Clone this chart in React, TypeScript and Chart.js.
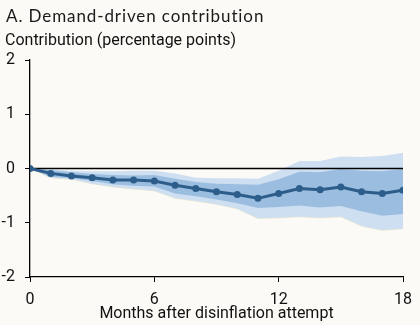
import React, { useEffect, useRef } from "react";
import { Chart, registerables } from "chart.js";

Chart.register(...registerables);

const months = [0, 1, 2, 3, 4, 5, 6, 7, 8, 9, 10, 11, 12, 13, 14, 15, 16, 17, 18];
const median = [0, -0.09, -0.14, -0.17, -0.21, -0.21, -0.23, -0.31, -0.37, -0.43, -0.48, -0.55, -0.46, -0.37, -0.39, -0.34, -0.43, -0.46, -0.4];
const innerUpper = [0, -0.03, -0.07, -0.1, -0.12, -0.13, -0.12, -0.19, -0.25, -0.28, -0.29, -0.3, -0.2, -0.06, -0.07, -0.01, -0.04, -0.05, -0.01];
const innerLower = [0, -0.15, -0.18, -0.23, -0.29, -0.32, -0.33, -0.46, -0.51, -0.57, -0.64, -0.73, -0.71, -0.68, -0.72, -0.69, -0.79, -0.87, -0.84];
const outerUpper = [0, -0.02, -0.04, -0.05, -0.05, -0.04, -0.04, -0.09, -0.17, -0.18, -0.18, -0.19, -0.04, 0.14, 0.14, 0.22, 0.21, 0.23, 0.29];
const outerLower = [0, -0.17, -0.2, -0.28, -0.34, -0.38, -0.41, -0.55, -0.6, -0.66, -0.74, -0.92, -0.91, -0.89, -0.91, -0.89, -1.06, -1.14, -1.11];
const xTicks = [0, 6, 12, 18];
const yTicks = [-2, -1, 0, 1, 2];

const titleText = "A. Demand-driven contribution";
const yTitleText = "Contribution (percentage points)";
const xTitleText = "Months after disinflation attempt";

const pts = (arr: number[]) => arr.map((v, i) => ({ x: months[i], y: v }));

const textPlugin = {
  id: "headerText",
  afterDraw(chart: any) {
    const ctx = chart.ctx;
    ctx.save();
    ctx.fillStyle = "#1a1a1a";
    ctx.textBaseline = "middle";
    ctx.textAlign = "left";
    ctx.font = "400 17px Lato";
    try {
      (ctx as any).letterSpacing = "0.9px";
    } catch (e) {}
    ctx.fillText(titleText, 6, 17);
    try {
      (ctx as any).letterSpacing = "0px";
    } catch (e) {}
    ctx.fillStyle = "#111111";
    ctx.font = "16px Roboto";
    ctx.fillText(yTitleText, 5, 41);
    ctx.restore();
  },
};

const bgPlugin = {
  id: "bg",
  beforeDraw(chart: any) {
    const ctx = chart.ctx;
    ctx.save();
    ctx.fillStyle = "#fbfaf6";
    ctx.fillRect(0, 0, chart.width, chart.height);
    ctx.restore();
  },
};

export default function App() {
  const ref = useRef<HTMLCanvasElement | null>(null);
  useEffect(() => {
    document.body.style.margin = "0";
    const canvas = ref.current;
    if (!canvas) return;
    const chart = new Chart(canvas, {
      type: "line",
      data: {
        datasets: [
          {
            data: pts(outerUpper),
            borderWidth: 0,
            pointRadius: 0,
            backgroundColor: "#cddff0",
            fill: "+1",
            order: 5,
          } as any,
          {
            data: pts(outerLower),
            borderWidth: 1,
            borderColor: "rgba(230,215,160,0.5)",
            pointRadius: 0,
            fill: false,
            order: 5,
          },
          {
            data: pts(innerUpper),
            borderWidth: 0,
            pointRadius: 0,
            backgroundColor: "#9bbddf",
            fill: "+1",
            order: 4,
          } as any,
          {
            data: pts(innerLower),
            borderWidth: 0,
            pointRadius: 0,
            fill: false,
            order: 4,
          },
          {
            data: [
              { x: 0, y: 0 },
              { x: 18, y: 0 },
            ],
            borderColor: "#000000",
            borderWidth: 1.3,
            pointRadius: 0,
            fill: false,
            order: 2,
          },
          {
            data: pts(median),
            borderColor: "#2d5e8b",
            backgroundColor: "#2d5e8b",
            borderWidth: 3,
            pointRadius: 3.5,
            pointBorderWidth: 0,
            fill: false,
            order: 1,
          },
        ],
      },
      options: {
        animation: false,
        responsive: false,
        maintainAspectRatio: false,
        layout: { padding: { left: 0, right: 17, top: 60, bottom: 0 } },
        plugins: {
          legend: { display: false },
          tooltip: { enabled: false },
          title: { display: false },
        },
        elements: { line: { tension: 0 } },
        scales: {
          x: {
            type: "linear",
            min: 0,
            max: 18,
            afterBuildTicks: (s: any) => {
              s.ticks = xTicks.map((v) => ({ value: v }));
            },
            afterFit: (s: any) => {
              s.height = 48;
            },
            grid: {
              drawOnChartArea: false,
              drawTicks: true,
              tickLength: 5,
              color: "#000000",
            },
            border: { color: "#000000", width: 1.3 },
            ticks: {
              color: "#111111",
              font: { family: "Roboto", size: 16 },
              padding: 8,
              maxRotation: 0,
            },
            title: {
              display: true,
              text: xTitleText,
              color: "#111111",
              font: { family: "Roboto", size: 16 },
              padding: { top: 0, bottom: 1 },
            },
          },
          y: {
            type: "linear",
            min: -2,
            max: 2,
            afterBuildTicks: (s: any) => {
              s.ticks = yTicks.map((v) => ({ value: v }));
            },
            afterFit: (s: any) => {
              s.width = 30;
            },
            grid: {
              drawOnChartArea: false,
              drawTicks: true,
              tickLength: 5,
              color: "#000000",
            },
            border: { color: "#000000", width: 1.3 },
            ticks: {
              color: "#111111",
              font: { family: "Roboto", size: 16 },
              padding: 10,
            },
          },
        },
      },
      plugins: [bgPlugin, textPlugin],
    } as any);
    return () => chart.destroy();
  }, []);
  return <canvas ref={ref} width={420} height={325} style={{ display: "block" }} />;
}
